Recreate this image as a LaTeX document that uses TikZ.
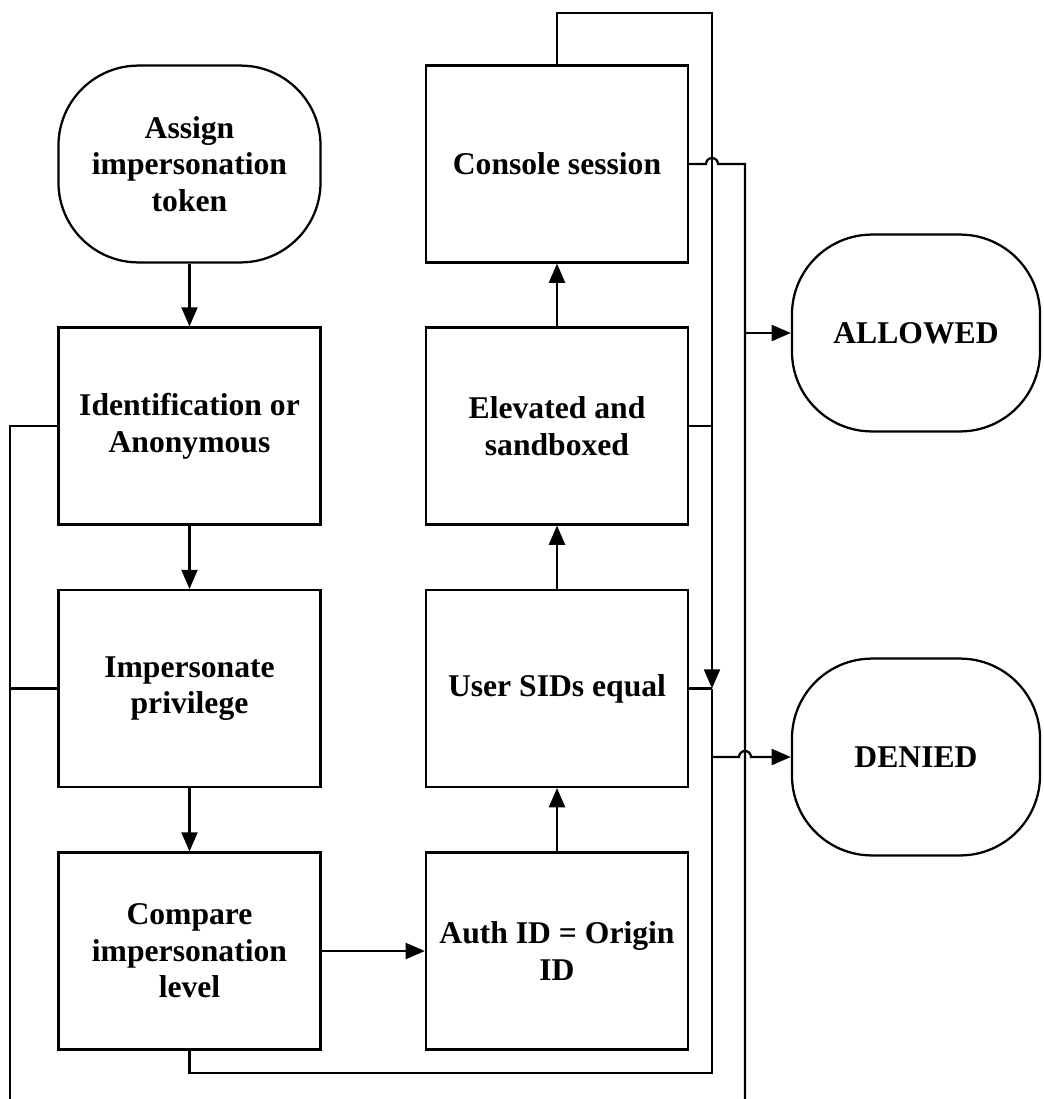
\documentclass[tikz,border=0pt]{standalone}
\usepackage{fontspec}
\setmainfont{Liberation Serif}
\usetikzlibrary{arrows.meta}
\tikzset{
  box/.style={draw, line width=1.6pt, minimum width=6.55cm, minimum height=4.92cm,
    inner sep=0pt, align=center, font=\bfseries\fontsize{22.5}{26}\selectfont},
  term/.style={box, rounded corners=2cm},
  link/.style={line width=1.6pt},
  flow/.style={link, -{Triangle[length=0.48cm, width=0.4cm]}},
}

\begin{document}
\begin{tikzpicture}[x=0.025cm, y=-0.025cm]
  \useasboundingbox (0,0) rectangle (1044,1099);
  % left column
  \node[term] (assign) at (189.5,164) {Assign\\impersonation\\token};
  \node[box] (ident) at (189.5,426) {Identification or\\Anonymous};
  \node[box] (imper) at (189.5,688.5) {Impersonate\\privilege};
  \node[box] (compare) at (189.5,951) {Compare\\impersonation\\level};
  % middle column
  \node[box] (auth) at (557,951) {Auth ID = Origin\\ID};
  \node[box] (sids) at (557,688.5) {User SIDs equal};
  \node[box] (elev) at (557,426) {Elevated and\\sandboxed};
  \node[box] (console) at (557,164) {Console session};
  % results
  \node[term, minimum width=6.2cm] (allowed) at (916,333) {ALLOWED};
  \node[term, minimum width=6.2cm] (denied) at (916,757) {DENIED};
  % bus lines
  \coordinate (lbot) at (10,1099);
  \coordinate (ltop) at (712,13);
  \coordinate (lbus) at (712,1073);
  \coordinate (rbot) at (745,1099);
  % main flow
  \draw[flow] (assign) -- (ident);
  \draw[flow] (ident) -- (imper);
  \draw[flow] (imper) -- (compare);
  \draw[flow] (compare) -- (auth);
  \draw[flow] (auth) -- (sids);
  \draw[flow] (sids) -- (elev);
  \draw[flow] (elev) -- (console);
  % left bus
  \draw[link] (ident.west) -| (lbot);
  \draw[link] (imper.west) -- (imper.west -| lbot);
  % inner right bus
  \draw[flow] (console.north) |- (ltop) -- (ltop |- sids.east);
  \draw[link] (elev.east) -- (elev.east -| ltop);
  \draw[link] (sids.east) -- (sids.east -| ltop);
  \draw[link] (compare.south) |- (lbus) -- (lbus |- sids.east);
  % outer right bus
  \draw[link] (console.east) -- ([xshift=-0.15cm]console.east -| ltop)
    arc[start angle=180, end angle=0, radius=0.15cm] -- (console.east -| rbot) -- (rbot);
  \draw[flow] (allowed.west -| rbot) -- (allowed.west);
  \draw[flow] (denied.west -| ltop) -- ([xshift=-0.15cm]denied.west -| rbot)
    arc[start angle=180, end angle=0, radius=0.15cm] -- (denied.west);
\end{tikzpicture}
\end{document}
